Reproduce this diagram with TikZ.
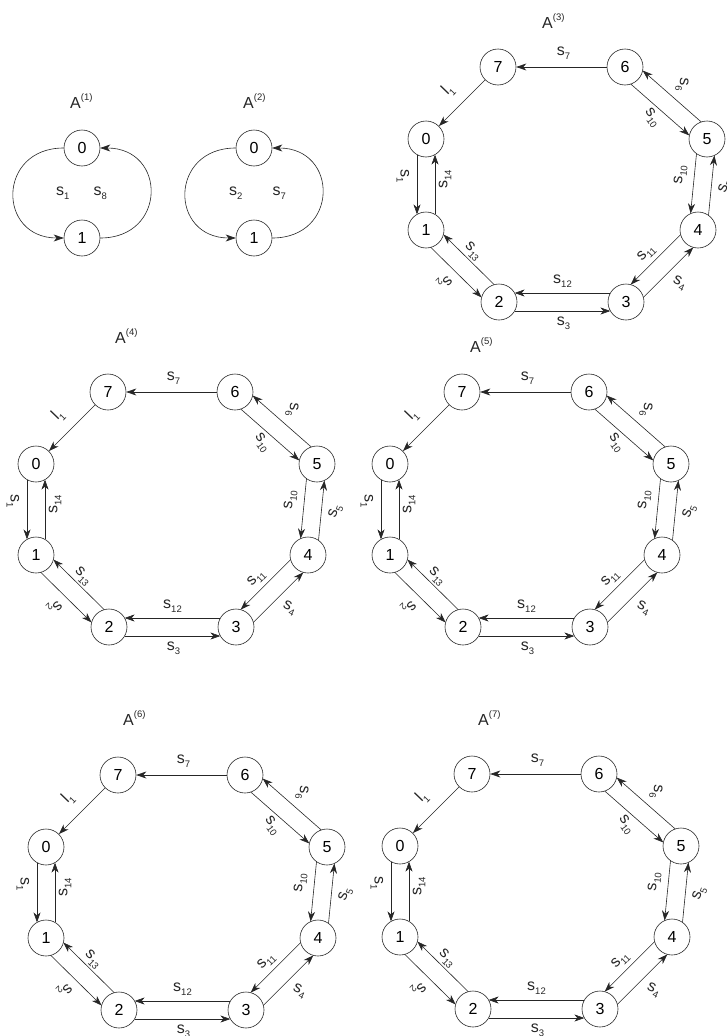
\documentclass[tikz,border=0pt]{standalone}
\usepackage{fontspec}
\setmainfont{Liberation Sans}
\usetikzlibrary{arrows.meta, calc}
\newcommand{\lsub}[1]{\raisebox{-4pt}{\fontsize{9.5}{10}\selectfont #1}}
\newcommand{\lsup}[1]{\raisebox{7.5pt}{\fontsize{9.5}{10}\selectfont #1}}
\tikzset{
  vertex/.style={circle, draw=black!85, line width=0.6pt, minimum size=36pt, inner sep=0pt, font=\fontsize{16}{18}\selectfont},
  arrow/.style={line width=0.6pt, draw=black!85, -{Stealth[length=10pt, width=7pt, inset=3pt]}},
  twin/.style={shorten <=15.6pt, shorten >=15.6pt},
  lbl/.style={midway, font=\fontsize{16}{18}\selectfont, inner sep=0pt, text=black!85},
  graphname/.style={font=\fontsize{16}{18}\selectfont, inner sep=0pt, anchor=base west, text=black!85},
  octagon/.pic={
    \node[vertex] (-q7) at (0,0) {7};
    \node[vertex] (-q6) at (127,0) {6};
    \node[vertex] (-q0) at (-72,72) {0};
    \node[vertex] (-q5) at (209,72) {5};
    \node[vertex] (-q1) at (-72,163) {1};
    \node[vertex] (-q4) at (200,163) {4};
    \node[vertex] (-q2) at (1,235) {2};
    \node[vertex] (-q3) at (128,235) {3};
    \draw[arrow] (-q6) -- node[lbl, xshift=2pt, yshift=14pt] {s\lsub{7}} (-q7);
    \draw[arrow] (-q7) -- node[lbl, xshift=-14pt, yshift=13pt, rotate=46] {l\lsub{1}} (-q0);
    \draw[arrow, twin] ($(-q0)!9pt!-90:(-q1)$) -- node[lbl, xshift=-14pt, yshift=8pt, rotate=-90] {s\lsub{1}} ($(-q1)!9pt!90:(-q0)$);
    \draw[arrow, twin] ($(-q1)!9pt!-90:(-q0)$) -- node[lbl, xshift=10pt, yshift=5pt, rotate=90] {s\lsub{14}} ($(-q0)!9pt!90:(-q1)$);
    \draw[arrow, twin] ($(-q1)!9pt!-90:(-q2)$) -- node[lbl, xshift=-12pt, yshift=-9pt, rotate=-135] {s\lsub{2}} ($(-q2)!9pt!90:(-q1)$);
    \draw[arrow, twin] ($(-q2)!9pt!-90:(-q1)$) -- node[lbl, xshift=4pt, yshift=8pt, rotate=-45] {s\lsub{13}} ($(-q1)!9pt!90:(-q2)$);
    \draw[arrow, twin] ($(-q2)!9pt!-90:(-q3)$) -- node[lbl, xshift=1pt, yshift=-12pt] {s\lsub{3}} ($(-q3)!9pt!90:(-q2)$);
    \draw[arrow, twin] ($(-q3)!9pt!-90:(-q2)$) -- node[lbl, yshift=12pt] {s\lsub{12}} ($(-q2)!9pt!90:(-q3)$);
    \draw[arrow, twin] ($(-q3)!9pt!-90:(-q4)$) -- node[lbl, xshift=11pt, yshift=-11pt, rotate=-25] {s\lsub{4}} ($(-q4)!9pt!90:(-q3)$);
    \draw[arrow, twin] ($(-q4)!9pt!-90:(-q3)$) -- node[lbl, xshift=-9pt, yshift=6pt, rotate=45] {s\lsub{11}} ($(-q3)!9pt!90:(-q4)$);
    \draw[arrow, twin] ($(-q4)!9pt!-90:(-q5)$) -- node[lbl, xshift=14pt, yshift=-1pt, rotate=70] {s\lsub{5}} ($(-q5)!9pt!90:(-q4)$);
    \draw[arrow, twin] ($(-q5)!9pt!-90:(-q4)$) -- node[lbl, xshift=-13pt, yshift=9pt, rotate=84] {s\lsub{10}} ($(-q4)!9pt!90:(-q5)$);
    \draw[arrow, twin] ($(-q5)!9pt!-90:(-q6)$) -- node[lbl, xshift=10pt, yshift=12pt, rotate=-95] {s\lsub{6}} ($(-q6)!9pt!90:(-q5)$);
    \draw[arrow, twin] ($(-q6)!9pt!-90:(-q5)$) -- node[lbl, xshift=-8pt, yshift=-8pt, rotate=-55] {s\lsub{10}} ($(-q5)!9pt!90:(-q6)$);
  }
}
\begin{document}
\begin{tikzpicture}[x=1pt, y=-1pt]
  \useasboundingbox (0,0) rectangle (726,1036);
  % two-state automata
  \node[graphname] (t1) at (70,108) {A\lsup{(1)}};
  \node[vertex] (one0) at (82,148) {0};
  \node[vertex] (one1) at (82,238) {1};
  \draw[arrow] (one0.west) to[out=180, in=180, looseness=1.9] node[lbl, xshift=49pt] {s\lsub{1}} (one1.west);
  \draw[arrow] (one1.east) to[out=0, in=0, looseness=1.9] node[lbl, xshift=-50pt] {s\lsub{8}} (one0.east);

  \node[graphname] (t2) at (243,108) {A\lsup{(2)}};
  \node[vertex] (two0) at (254,148) {0};
  \node[vertex] (two1) at (254,238) {1};
  \draw[arrow] (two0.west) to[out=180, in=180, looseness=1.9] node[lbl, xshift=50pt] {s\lsub{2}} (two1.west);
  \draw[arrow] (two1.east) to[out=0, in=0, looseness=1.9] node[lbl, xshift=-43pt] {s\lsub{7}} (two0.east);

  % eight-state automata
  \node[graphname] (t3) at (542,28) {A\lsup{(3)}};
  \pic (g3) at (498,67) {octagon};
  \node[graphname] (t4) at (115,343) {A\lsup{(4)}};
  \pic (g4) at (108,392) {octagon};
  \node[graphname] (t5) at (470,352) {A\lsup{(5)}};
  \pic (g5) at (462,392) {octagon};
  \node[graphname] (t6) at (123,725) {A\lsup{(6)}};
  \pic (g6) at (118,775) {octagon};
  \node[graphname] (t7) at (478,725) {A\lsup{(7)}};
  \pic (g7) at (472,774) {octagon};
\end{tikzpicture}
\end{document}
